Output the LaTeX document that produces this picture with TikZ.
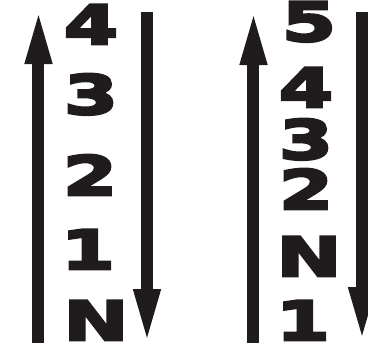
\documentclass[tikz,border=0pt]{standalone}
\usepackage{fontspec}
\usepackage{xcolor}
\usepackage{tikz}
\usetikzlibrary{arrows.meta,positioning}
\newfontfamily\gearfont[FakeStretch=1.45,FakeBold=5]{DejaVu Sans Bold}
\definecolor{gearblack}{RGB}{32,28,29}

\begin{document}
\begin{tikzpicture}[x=1pt,y=-1pt,
    gear/.style={font=\gearfont\fontsize{54}{54}\selectfont, text=gearblack, inner sep=0pt, text depth=0pt, anchor=base},
    shift_arrow/.style={draw=gearblack, line width=12pt, -{Triangle[length=56pt,width=24pt]}}
]
    \useasboundingbox (0,0) rectangle (368,349);
    % four-speed gate
    \foreach \g/\x/\y in {4/91/44, 3/91/114, 2/90/195, 1/88/269, N/96/340}
        \node[gear] (left\g) at (\x,\y) {\g};
    \coordinate (upA) at (38.5,343);
    \coordinate (upB) at (38.5,8);
    \coordinate (downA) at (147,12);
    \coordinate (downB) at (147,345);
    \draw[shift_arrow] (upA) -- (upB);
    \draw[shift_arrow] (downA) -- (downB);
    % five-speed gate
    \foreach \g/\x/\y in {5/309/41, 4/306/107, 3/306/159, 2/306/209, N/309/276, 1/303/340}
        \node[gear] (right\g) at (\x,\y) {\g};
    \coordinate (upC) at (253.5,343);
    \coordinate (upD) at (253.5,9);
    \coordinate (downC) at (362,12);
    \coordinate (downD) at (362,343);
    \draw[shift_arrow] (upC) -- (upD);
    \draw[shift_arrow] (downC) -- (downD);
\end{tikzpicture}
\end{document}
